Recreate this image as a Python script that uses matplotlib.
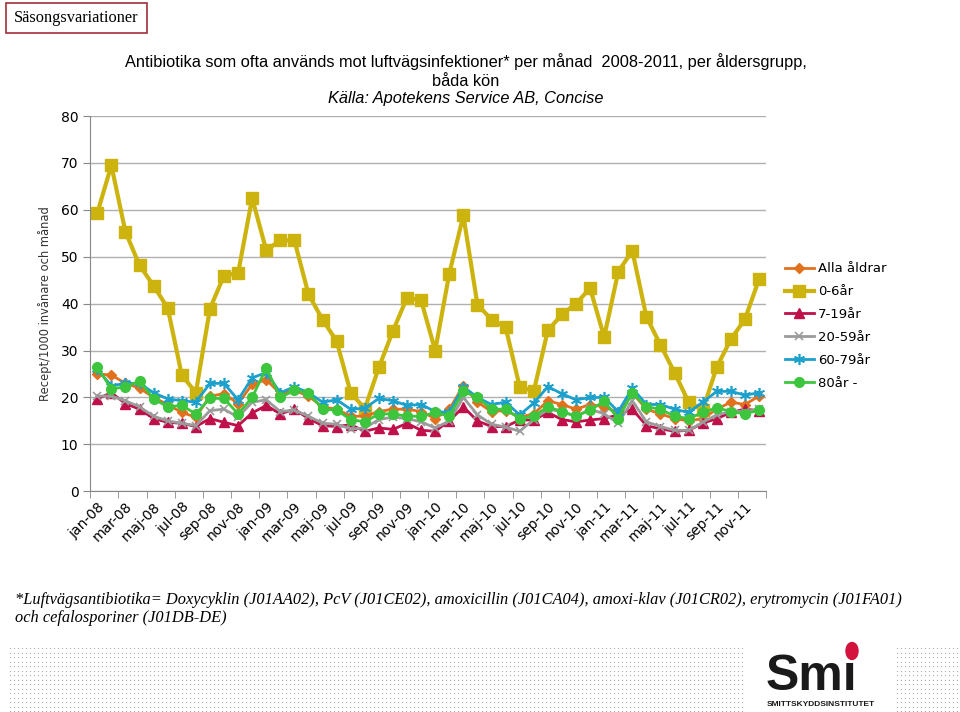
import numpy as np
import matplotlib.pyplot as plt
from matplotlib.patches import Rectangle, Ellipse

# months jan-08 .. dec-11
months = ['jan', 'feb', 'mar', 'apr', 'maj', 'jun', 'jul', 'aug', 'sep', 'okt', 'nov', 'dec']
years = ['08', '09', '10', '11']
labels = [m + '-' + y for y in years for m in months]

alla = [25.0, 24.8, 23.0, 22.0, 20.0, 18.5, 16.8, 15.8, 20.3, 20.8, 18.7, 22.8,
        23.8, 20.8, 21.5, 20.3, 18.0, 17.5, 16.0, 16.0, 17.0, 17.5, 17.5, 17.0,
        15.5, 17.5, 22.5, 19.0, 17.0, 17.2, 15.8, 16.5, 19.3, 18.5, 17.5, 18.5,
        18.0, 16.8, 21.0, 17.5, 16.5, 15.5, 15.0, 15.5, 17.5, 19.0, 18.5, 20.3]
ar0_6 = [59.3, 69.5, 55.3, 48.2, 43.8, 39.1, 24.8, 21.0, 38.9, 46.0, 46.5, 62.5,
         51.4, 53.5, 53.5, 42.0, 36.6, 32.0, 21.0, 17.6, 26.4, 34.2, 41.3, 40.7,
         30.0, 46.4, 58.8, 39.8, 36.6, 35.0, 22.3, 21.3, 34.3, 37.7, 40.0, 43.3,
         32.9, 46.8, 51.3, 37.2, 31.2, 25.3, 19.0, 17.3, 26.5, 32.4, 36.7, 45.2]
ar7_19 = [19.7, 21.0, 18.7, 17.5, 15.5, 14.7, 14.5, 13.8, 15.5, 14.7, 14.0, 16.7,
          18.3, 16.5, 17.5, 15.5, 14.0, 13.8, 14.2, 12.8, 13.5, 13.2, 14.5, 13.0,
          12.8, 15.0, 18.0, 15.0, 13.8, 13.8, 15.2, 15.2, 16.8, 15.3, 14.8, 15.2,
          15.5, 16.3, 17.5, 14.0, 13.3, 12.8, 13.0, 14.5, 15.5, 16.8, 17.5, 17.2]
ar20_59 = [20.3, 20.3, 19.3, 18.0, 16.0, 15.0, 14.5, 14.0, 17.2, 17.5, 15.8, 19.0,
           19.5, 17.0, 17.3, 16.0, 14.5, 14.3, 13.3, 13.5, 15.3, 15.8, 15.5, 14.8,
           13.5, 15.0, 20.0, 16.3, 14.3, 13.7, 12.8, 15.3, 17.5, 17.0, 16.0, 17.5,
           16.5, 14.5, 19.3, 14.8, 13.8, 13.0, 13.0, 14.7, 16.3, 17.0, 17.0, 17.5]
ar60_79 = [26.0, 22.5, 23.0, 23.0, 21.0, 19.7, 19.3, 19.0, 23.0, 23.0, 19.5, 24.2,
           25.3, 21.0, 22.3, 21.0, 19.0, 19.5, 17.5, 17.7, 19.8, 19.3, 18.3, 18.5,
           17.0, 16.8, 22.3, 20.0, 18.5, 19.0, 16.3, 18.8, 22.3, 20.8, 19.5, 20.0,
           20.0, 17.0, 22.0, 18.5, 18.5, 17.5, 16.8, 19.0, 21.3, 21.3, 20.5, 21.0]
ar80 = [26.5, 21.8, 22.3, 23.5, 19.7, 18.0, 18.3, 16.5, 19.8, 19.8, 16.5, 20.0,
        26.3, 20.0, 21.5, 21.0, 17.5, 17.3, 15.3, 14.8, 16.5, 16.5, 16.0, 16.0,
        16.8, 16.0, 21.3, 20.0, 17.5, 17.5, 15.5, 16.0, 18.0, 17.0, 16.0, 17.3,
        19.2, 15.5, 21.0, 18.0, 17.5, 16.0, 15.5, 16.8, 17.8, 17.0, 16.5, 17.3]

fig = plt.figure(figsize=(9.6, 7.12), dpi=100)
ax = fig.add_axes([0.094, 0.310, 0.704, 0.527])

x = np.arange(len(labels))
ax.plot(x, alla, '-D', color='#E2711D', lw=2, ms=5, label='Alla åldrar', zorder=3)
ax.plot(x, ar0_6, '-s', color='#CDB30E', lw=3, ms=9, label='0-6år', zorder=2)
ax.plot(x, ar7_19, '-^', color='#C0104A', lw=2, ms=7, label='7-19år', zorder=3)
ax.plot(x, ar20_59, '-x', color='#9B9B9B', lw=2, ms=6, mew=1.2, label='20-59år', zorder=3)
ax.plot(x, ar60_79, '-', marker=(6, 2, 0), color='#1CA0CC', lw=2, ms=8, mew=1.2, label='60-79år', zorder=3)
ax.plot(x, ar80, '-o', color='#3DC63D', lw=2, ms=7, label='80år -', zorder=4)

ax.set_xlim(-0.5, 47.5)
ax.set_ylim(0, 80)
ax.set_yticks(range(0, 81, 10))
ax.yaxis.grid(True, color='#B0B0B0', lw=1)
ax.set_axisbelow(True)
ax.set_xticks(x[::2])
ax.set_xticklabels(labels[::2], rotation=45, ha='right', rotation_mode='anchor', fontsize=10)
ax.set_xticks(np.arange(-0.5, 48, 2), minor=True)
ax.tick_params(axis='x', which='major', length=0, pad=6)
ax.tick_params(axis='x', which='minor', length=5, color='#888888')
ax.tick_params(axis='y', length=5, color='#888888', labelsize=10)
for s in ['top', 'right']:
    ax.spines[s].set_visible(False)
for s in ['left', 'bottom']:
    ax.spines[s].set_color('#888888')
ax.set_ylabel('Recept/1000 invånare och månad', fontsize=8.3, color='#333333', labelpad=6)

ax.legend(loc='upper left', bbox_to_anchor=(1.01, 0.642), frameon=False, fontsize=9.5,
          handlelength=2.2, labelspacing=0.75, handletextpad=0.3)

# titles
fig.text(0.485, 0.913, 'Antibiotika som ofta används mot luftvägsinfektioner* per månad  2008-2011, per åldersgrupp,',
         ha='center', va='center', fontsize=11.8, family='Liberation Sans')
fig.text(0.485, 0.886, 'båda kön', ha='center', va='center', fontsize=11.8, family='Liberation Sans')
fig.text(0.485, 0.862, 'Källa: Apotekens Service AB, Concise', ha='center', va='center',
         fontsize=11.8, style='italic', family='Liberation Sans')

# top-left box
fig.text(0.079, 0.975, 'Säsongsvariationer', ha='center', va='center', fontsize=11.8,
         family='Liberation Serif')
fig.patches.append(Rectangle((0.006, 0.954), 0.147, 0.042, transform=fig.transFigure,
                             fill=False, edgecolor='#A0303A', lw=1.2))

# footnote
fig.text(0.016, 0.158, '*Luftvägsantibiotika= Doxycyklin (J01AA02), PcV (J01CE02), amoxicillin (J01CA04), '
         'amoxi-klav (J01CR02), erytromycin (J01FA01)', ha='left', va='center', fontsize=11.8,
         style='italic', family='Liberation Serif')
fig.text(0.016, 0.132, 'och cefalosporiner (J01DB-DE)', ha='left', va='center', fontsize=11.8,
         style='italic', family='Liberation Serif')

# dotted band at bottom
bg = fig.add_axes([0, 0, 1, 1], zorder=-1)
bg.set_xlim(0, 960)
bg.set_ylim(712, 0)
bg.axis('off')
xs = np.concatenate([np.arange(10, 745, 4), np.arange(897, 960, 4)])
ys = np.arange(648, 712, 4.5)
gx, gy = np.meshgrid(xs, ys)
bg.scatter(gx.ravel(), gy.ravel(), s=0.8, color='#AAAAAA', lw=0)

# logo
fig.text(0.797, 0.031, 'Smı', ha='left', va='baseline', fontsize=36, fontweight='bold',
         family='Liberation Sans', color='#1A1A1A')
bg.add_patch(Ellipse((852, 651), 12, 17, color='#D4123E', zorder=3))
fig.text(0.855, 0.01, 'SMITTSKYDDSINSTITUTET', ha='center', va='center', fontsize=6,
         fontweight='bold', family='Liberation Sans', color='#1A1A1A')

fig.savefig('out.png', dpi=100)
